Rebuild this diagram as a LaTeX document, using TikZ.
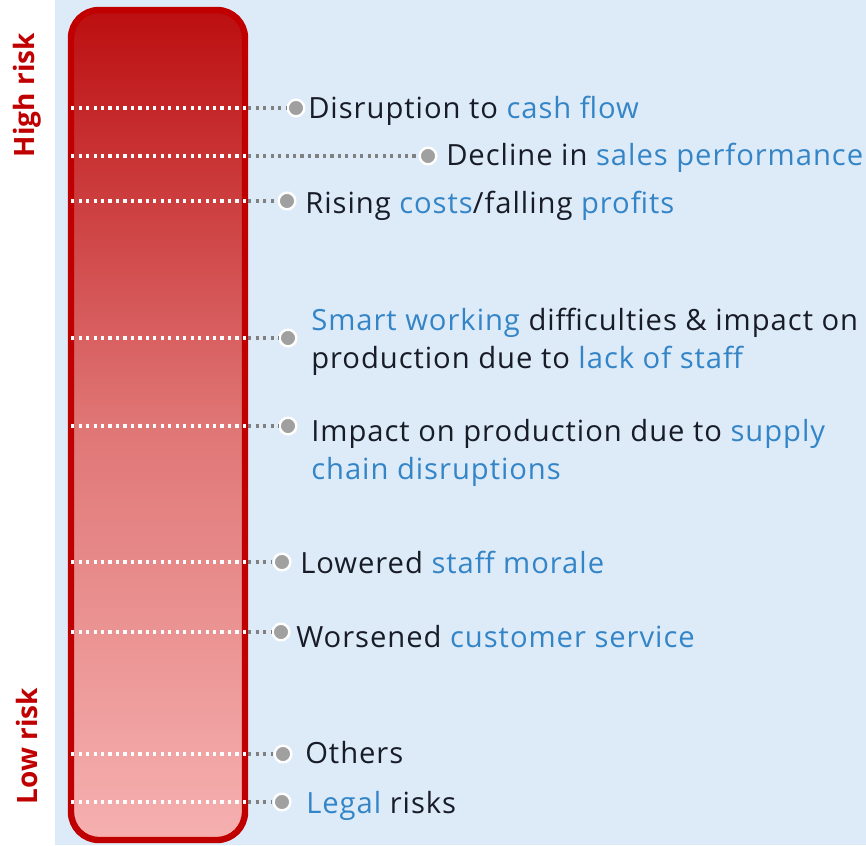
\documentclass[tikz,border=0pt]{standalone}
\usepackage{fontspec}
\setmainfont{Open Sans}
\newfontfamily\itemfont[LetterSpace=3.3]{Open Sans}
\definecolor{riskred}{RGB}{192,0,0}
\definecolor{bartop}{RGB}{188,14,16}
\definecolor{barmid}{RGB}{224,118,118}
\definecolor{barbot}{RGB}{246,176,176}
\definecolor{panel}{RGB}{221,235,248}
\definecolor{itemtext}{RGB}{24,28,40}
\definecolor{itemblue}{RGB}{52,133,199}
\definecolor{dotgray}{RGB}{160,160,160}
\definecolor{leadgray}{RGB}{128,128,128}
\newcommand{\kw}[1]{\textcolor{itemblue}{#1}}

\begin{document}
\begin{tikzpicture}[x=0.75pt,y=0.75pt,yscale=-1,xscale=1,
	item/.style={anchor=base west,inner sep=0pt,align=left,text=itemtext,font=\itemfont\fontsize{21.9}{28}\selectfont},
	risklabel/.style={rotate=90,inner sep=0pt,text=riskred,font=\fontsize{21}{24}\selectfont\bfseries},
	bullet/.style={circle,fill=dotgray,draw=white,line width=1.8pt,inner sep=0pt,minimum size=12.5pt},
	onbar/.style={white,line width=2.4pt,dash pattern=on 2.4pt off 3.2pt},
	offbar/.style={leadgray,line width=2.4pt,dash pattern=on 2.4pt off 3.2pt}]
	% background
	\useasboundingbox (0,0) rectangle (866,845);
	\fill [panel] (55,0) rectangle (866,845);
	% risk bar
	\node [draw=riskred,line width=4.8pt,rounded corners=21pt,minimum width=130.5pt,minimum height=622.5pt,
		top color=bartop,bottom color=barbot,middle color=barmid] (bar) at (158,425) {};
	\node [risklabel] (high) at (27,95) {High risk};
	\node [risklabel] (low) at (27,746) {Low risk};
	% bullets
	\node [bullet] (b1) at (296,108) {};
	\node [bullet] (b2) at (428,156) {};
	\node [bullet] (b3) at (287,201) {};
	\node [bullet] (b4) at (288,338) {};
	\node [bullet] (b5) at (288,426) {};
	\node [bullet] (b6) at (282,562) {};
	\node [bullet] (b7) at (281,632) {};
	\node [bullet] (b8) at (283,754) {};
	\node [bullet] (b9) at (282,802) {};
	% leaders
	\foreach \b in {b1,b2,b3,b4,b5,b6,b7,b8,b9} {
		\draw [onbar] ([xshift=2.5pt]bar.west |- \b) -- (bar.east |- \b);
		\draw [offbar] (bar.east |- \b) -- (\b.west);
	}
	% texts
	\node [item] (t1) at (308,118) {Disruption to \kw{cash flow}};
	\node [item] (t2) at (446,166) {Decline in \kw{sales performance}};
	\node [item] (t3) at (305,213) {Rising \kw{costs}/falling \kw{profits}};
	\node [item] (t4) at (311,368) {\kw{Smart working} difficulties \& impact on\\production due to \kw{lack of staff}};
	\node [item] (t5) at (311,479) {Impact on production due to \kw{supply}\\\kw{chain disruptions}};
	\node [item] (t6) at (300,573) {Lowered \kw{staff morale}};
	\node [item] (t7) at (296,647) {Worsened \kw{customer service}};
	\node [item] (t8) at (305,763) {Others};
	\node [item] (t9) at (306,813) {\kw{Legal} risks};
\end{tikzpicture}
\end{document}
